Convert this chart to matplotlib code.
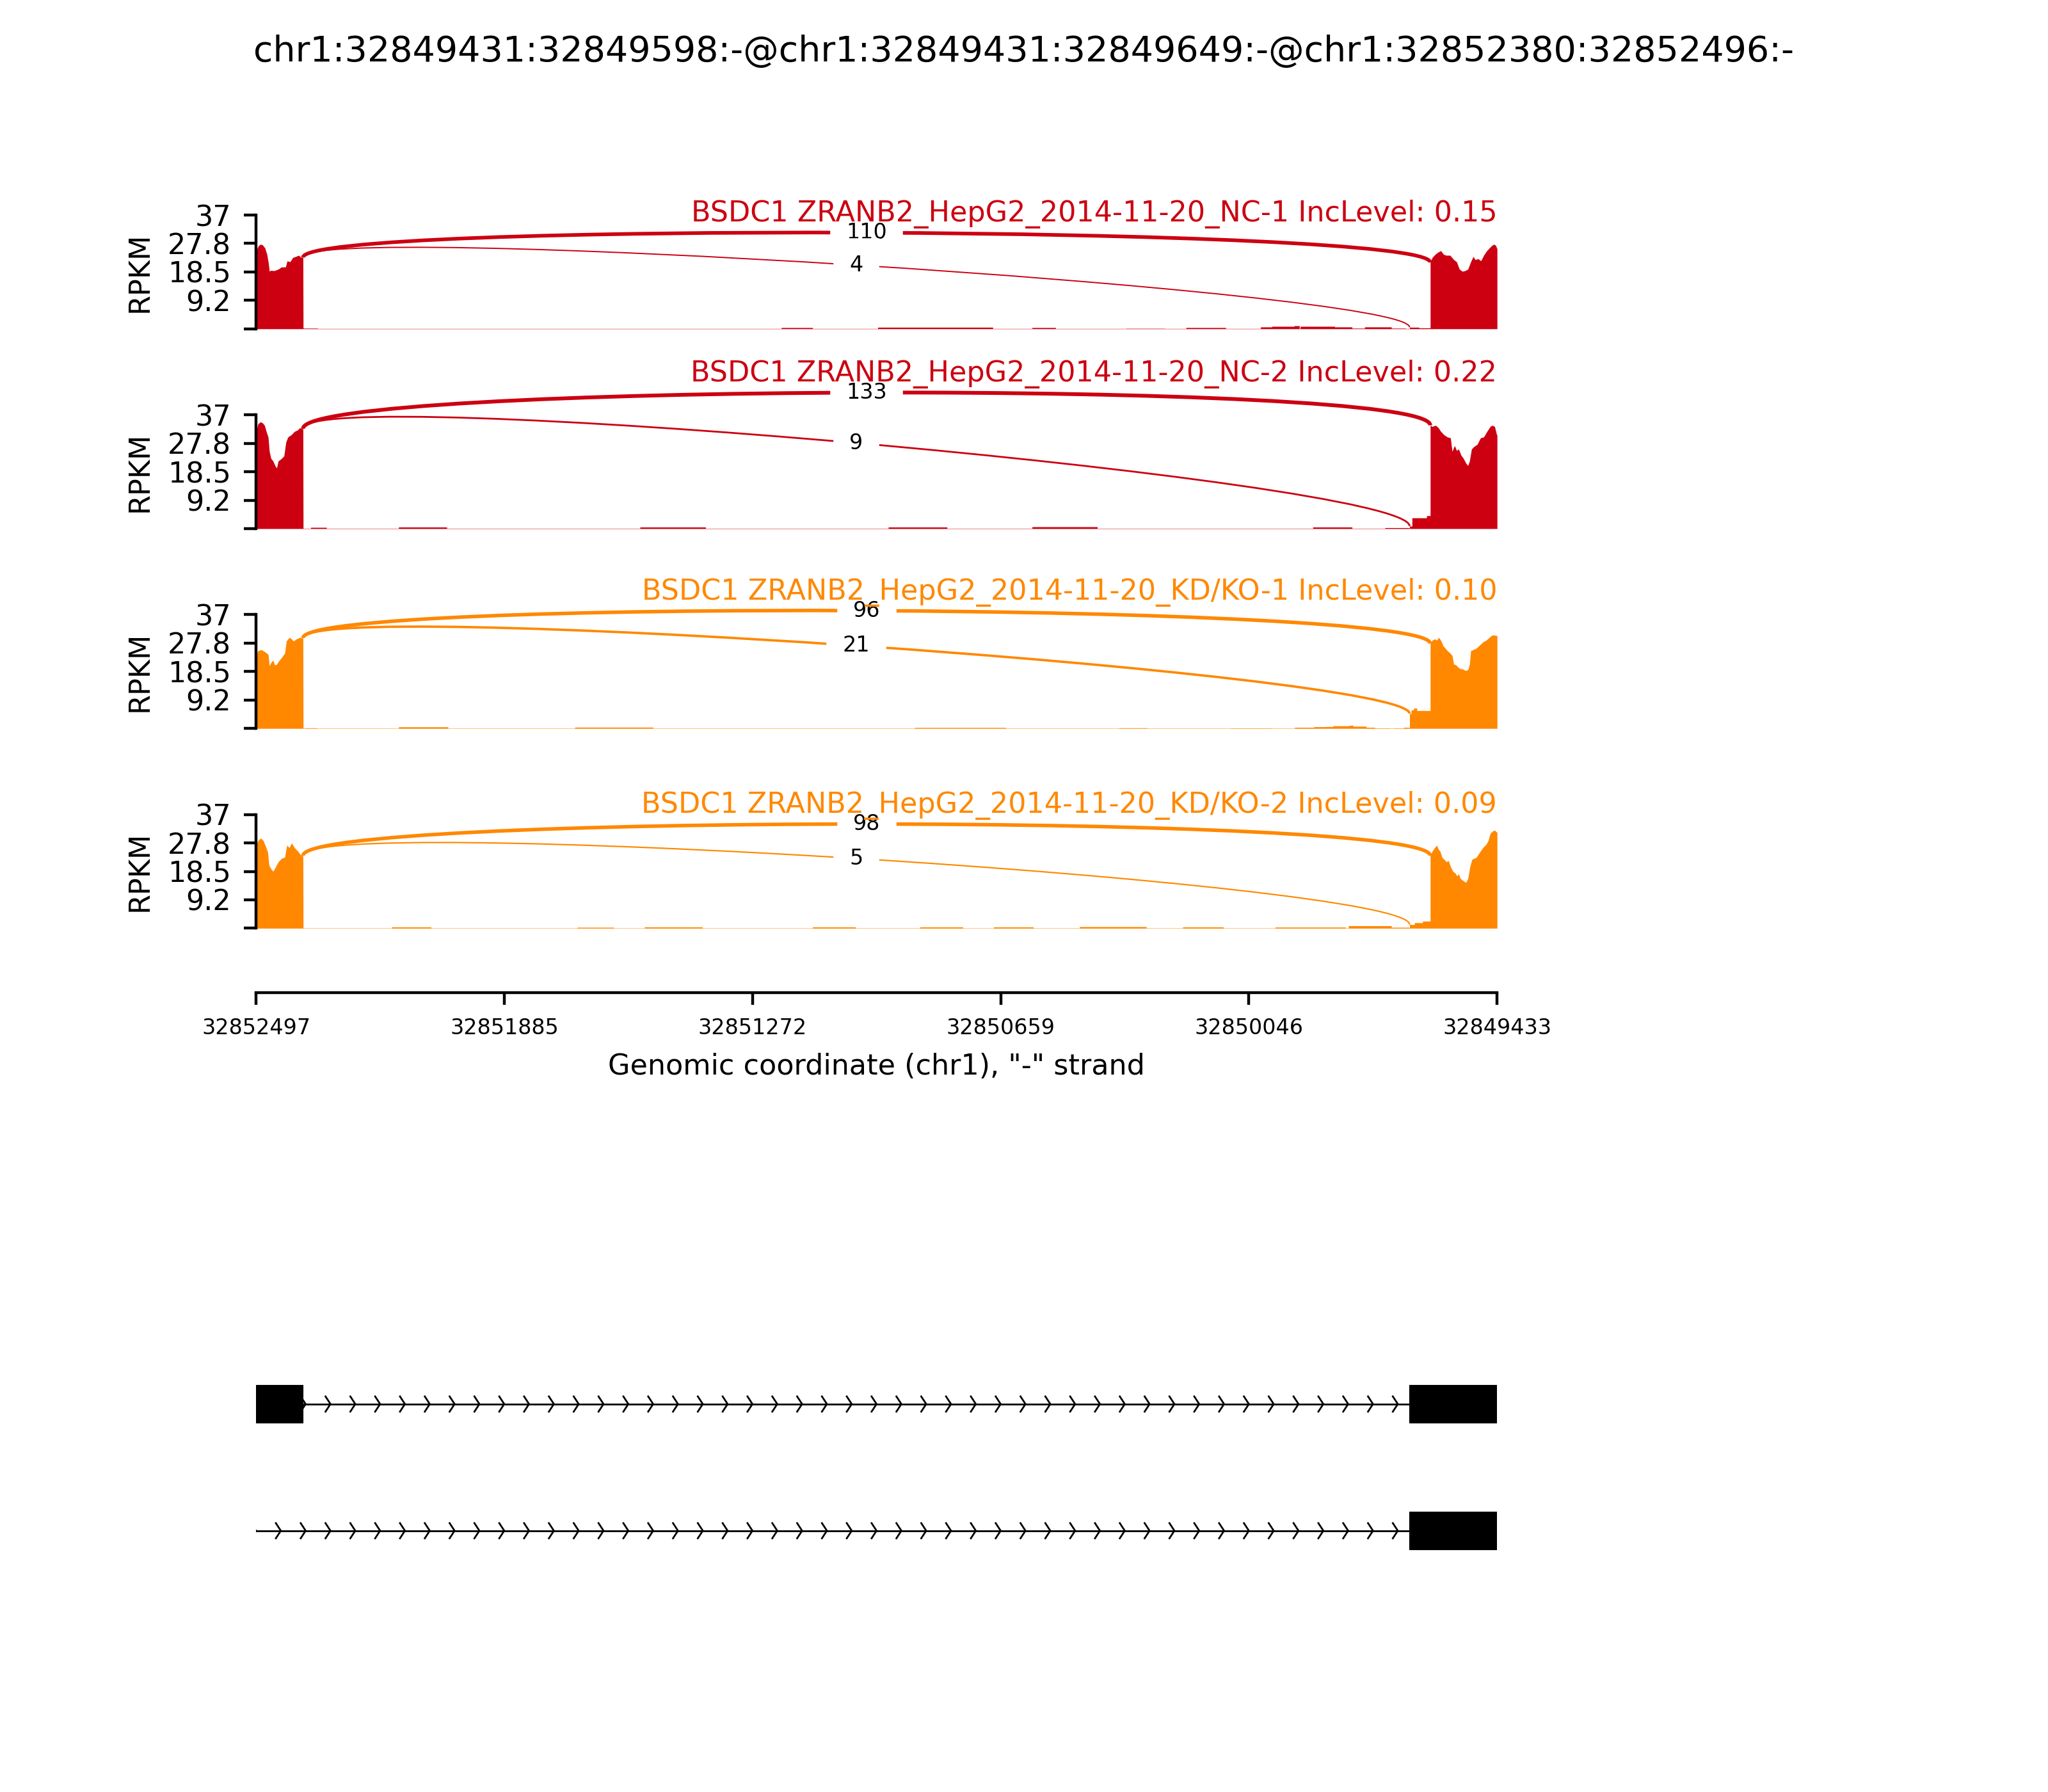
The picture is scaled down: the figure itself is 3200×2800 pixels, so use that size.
import numpy as np
import matplotlib
matplotlib.use("Agg")
import matplotlib.pyplot as plt
from matplotlib.path import Path
from matplotlib.patches import PathPatch, Rectangle

### Data (relative coordinates: 0 = 32852497, minus strand)

event_title = "chr1:32849431:32849598:-@chr1:32849431:32849649:-@chr1:32852380:32852496:-"
region_len = 3064
ymax = 37
ytick_labels = ["", "9.2", "18.5", "27.8", "37"]
xtick_labels = ["32852497", "32851885", "32851272", "32850659", "32850046", "32849433"]
xlabel = 'Genomic coordinate (chr1), "-" strand'

sample_labels = [
    "BSDC1 ZRANB2_HepG2_2014-11-20_NC-1 IncLevel: 0.15",
    "BSDC1 ZRANB2_HepG2_2014-11-20_NC-2 IncLevel: 0.22",
    "BSDC1 ZRANB2_HepG2_2014-11-20_KD/KO-1 IncLevel: 0.10",
    "BSDC1 ZRANB2_HepG2_2014-11-20_KD/KO-2 IncLevel: 0.09",
]
sample_colors = ["#CC0011", "#CC0011", "#FF8800", "#FF8800"]

# upstream exon coverage (32852496-32852380)
nc1_left_pos = [0, 6, 11, 16, 22, 27, 31, 33, 36, 45, 55, 63, 73, 77, 84, 91, 98, 105, 112, 116]
nc1_left_val = [25.3, 27.0, 27.5, 27.3, 26.3, 24.2, 21.1, 18.7, 19.0, 18.9, 19.4, 20.1, 20.1, 22.1, 21.8, 23.2, 23.5, 23.9, 23.2, 23.2]
nc2_left_pos = [0, 5, 11, 16, 21, 26, 30, 33, 37, 42, 47, 51, 55, 63, 69, 74, 79, 87, 95, 103, 108, 113, 116]
nc2_left_val = [31.3, 34.1, 34.7, 34.4, 33.6, 31.3, 29.8, 25.1, 22.8, 22.0, 20.5, 19.7, 22.0, 22.8, 23.6, 28.2, 29.8, 30.5, 31.6, 32.1, 32.8, 32.5, 32.5]
kd1_left_pos = [0, 5, 13, 21, 26, 30, 33, 37, 42, 46, 50, 56, 63, 71, 75, 82, 88, 92, 100, 108, 113, 116]
kd1_left_val = [23.7, 25.3, 25.6, 25.0, 24.5, 24.1, 20.4, 21.4, 22.2, 20.7, 20.7, 21.9, 23.0, 24.5, 28.4, 29.6, 29.1, 28.4, 29.1, 29.6, 29.4, 29.4]
kd2_left_pos = [0, 5, 12, 18, 25, 29, 32, 37, 42, 47, 55, 63, 71, 76, 82, 88, 95, 103, 108, 113, 116]
kd2_left_val = [27.0, 28.5, 29.3, 28.5, 26.2, 24.7, 20.5, 19.3, 18.5, 19.6, 21.6, 22.7, 23.1, 27.0, 26.2, 27.7, 26.2, 25.1, 24.2, 23.6, 23.6]

# downstream exon coverage (32849598-32849431)
nc1_right_pos = [2899, 2904, 2911, 2918, 2925, 2932, 2939, 2948, 2957, 2964, 2971, 2978, 2985, 2992, 2999, 3005, 3010, 3017, 3024, 3031, 3038, 3045, 3052, 3057, 3061, 3064]
nc1_right_val = [21.6, 23.2, 24.2, 24.9, 25.4, 24.2, 23.9, 23.9, 22.5, 21.8, 19.4, 18.7, 18.9, 19.4, 21.8, 23.5, 22.5, 22.8, 22.1, 23.9, 25.3, 26.3, 27.2, 27.5, 27.0, 26.0]
nc2_right_pos = [2899, 2904, 2912, 2919, 2925, 2933, 2941, 2949, 2953, 2959, 2964, 2969, 2975, 2981, 2987, 2992, 2996, 3001, 3007, 3015, 3023, 3031, 3039, 3047, 3052, 3058, 3063, 3064]
nc2_right_val = [33.6, 33.2, 33.6, 32.8, 31.6, 30.5, 29.8, 29.5, 25.1, 27.0, 25.4, 25.9, 23.9, 22.8, 21.3, 20.5, 22.0, 25.9, 26.7, 27.4, 29.5, 29.8, 31.6, 33.2, 33.6, 33.2, 30.5, 30.5]
kd1_right_pos = [2899, 2904, 2910, 2915, 2920, 2926, 2931, 2936, 2941, 2948, 2953, 2957, 2962, 2968, 2973, 2978, 2986, 2992, 2996, 2999, 3005, 3013, 3021, 3029, 3037, 3045, 3050, 3056, 3061, 3064]
kd1_right_val = [27.6, 28.7, 29.1, 28.7, 29.6, 28.4, 26.8, 26.1, 25.3, 24.5, 23.7, 20.9, 20.7, 19.9, 19.4, 19.4, 18.8, 19.1, 20.9, 25.3, 25.6, 26.1, 27.1, 28.1, 28.7, 29.6, 30.2, 30.4, 30.2, 30.2]
kd2_right_pos = [2899, 2904, 2910, 2915, 2919, 2923, 2928, 2933, 2939, 2944, 2949, 2955, 2960, 2965, 2969, 2973, 2981, 2987, 2992, 2997, 3002, 3007, 3013, 3021, 3029, 3037, 3042, 3047, 3053, 3058, 3062, 3064]
kd2_right_val = [23.6, 25.1, 26.2, 27.0, 25.7, 25.1, 23.1, 22.4, 21.6, 22.0, 20.0, 18.5, 18.0, 17.0, 17.7, 16.2, 15.4, 14.9, 16.2, 20.0, 22.4, 22.7, 23.1, 24.7, 26.2, 27.3, 28.5, 30.8, 31.6, 31.9, 31.3, 31.3]

# short stretch 32849649-32849598 (start, end, value)
nc1_low = [(2848, 2871, 0.5), (2871, 2899, 0.3)]
nc2_low = [(2848, 2854, 0.8), (2854, 2890, 3.5), (2890, 2899, 4.2)]
kd1_low = [(2848, 2852, 4.8), (2852, 2858, 6.0), (2858, 2866, 6.6), (2866, 2899, 5.8)]
kd2_low = [(2848, 2860, 1.2), (2860, 2880, 1.8), (2880, 2899, 2.3)]

# intronic reads (start, end, value)
nc1_intron = [(116, 152, 0.2), (1297, 1374, 0.4), (1535, 1819, 0.5), (1916, 1974, 0.4), (2148, 2243, 0.15),
              (2296, 2394, 0.4), (2480, 2508, 0.6), (2508, 2563, 0.8), (2563, 2576, 1.0), (2578, 2663, 0.8),
              (2663, 2706, 0.6), (2706, 2737, 0.2), (2737, 2803, 0.6), (2803, 2838, 0.2)]
nc2_intron = [(135, 174, 0.4), (352, 471, 0.5), (948, 1110, 0.5), (1561, 1706, 0.5), (1916, 2077, 0.6),
              (2609, 2706, 0.5), (2787, 2847, 0.3)]
kd1_intron = [(120, 150, 0.2), (352, 474, 0.5), (787, 980, 0.4), (1626, 1851, 0.3), (2130, 2200, 0.2),
              (2406, 2506, 0.15), (2564, 2612, 0.35), (2612, 2641, 0.55), (2641, 2659, 0.6), (2659, 2699, 0.85),
              (2699, 2709, 1.0), (2709, 2741, 0.7), (2741, 2762, 0.35), (2762, 2799, 0.15), (2807, 2833, 0.15),
              (2833, 2847, 0.35)]
kd2_intron = [(335, 432, 0.4), (793, 883, 0.3), (959, 1102, 0.4), (1374, 1480, 0.4), (1639, 1745, 0.4),
              (1821, 1919, 0.4), (2033, 2198, 0.5), (2288, 2388, 0.4), (2516, 2690, 0.35), (2697, 2803, 0.8),
              (2803, 2847, 0.3)]

# junctions (start, end, reads)
nc1_jxns = [(116, 2899, 110), (116, 2848, 4)]
nc2_jxns = [(116, 2899, 133), (116, 2848, 9)]
kd1_jxns = [(116, 2899, 96), (116, 2848, 21)]
kd2_jxns = [(116, 2899, 98), (116, 2848, 5)]

# gene models
iso_exons = [[(0, 116), (2848, 2899), (2899, 3064)],
             [(2848, 2899), (2899, 3064)]]

samples = [
    (nc1_left_pos, nc1_left_val, nc1_intron, nc1_low, nc1_right_pos, nc1_right_val, nc1_jxns),
    (nc2_left_pos, nc2_left_val, nc2_intron, nc2_low, nc2_right_pos, nc2_right_val, nc2_jxns),
    (kd1_left_pos, kd1_left_val, kd1_intron, kd1_low, kd1_right_pos, kd1_right_val, kd1_jxns),
    (kd2_left_pos, kd2_left_val, kd2_intron, kd2_low, kd2_right_pos, kd2_right_val, kd2_jxns),
]

### Helpers

def build_track(lpos, lval, intron, low, rpos, rval, base=0.1):
    xs = list(lpos)
    ys = list(lval)
    xs.append(lpos[-1] + 0.5)
    ys.append(base)
    for s, e, v in sorted(intron + low):
        xs += [s, s, e, e]
        ys += [base, v, v, base]
    xs += list(rpos)
    ys += list(rval)
    return np.array(xs, dtype=float), np.array(ys, dtype=float)

def dens_at(pos, lpos, lval, low, rpos, rval):
    if pos <= lpos[-1]:
        return lval[-1]
    if pos >= rpos[0]:
        return rval[0]
    for s, e, v in low:
        if s <= pos < e:
            return v
    return 0.0

def cubic_bezier(pts, t):
    p0, p1, p2, p3 = [np.array(p) for p in pts]
    return (1-t)**3*p0 + 3*(1-t)**2*t*p1 + 3*(1-t)*t**2*p2 + t**3*p3

### Figure

font_size = 8
fig = plt.figure(figsize=(8, 7), dpi=400)
left, width = 0.125, 0.606
panel_bottoms = [0.8165, 0.705, 0.5935, 0.482]
panel_h = 0.0635

fig.text(0.5, 0.971, event_title, ha="center", va="center", fontsize=10)

for i, (lpos, lval, intron, low, rpos, rval, jxns) in enumerate(samples):
    color = sample_colors[i]
    ax = fig.add_axes([left, panel_bottoms[i], width, panel_h])
    xs, ys = build_track(lpos, lval, intron, low, rpos, rval)
    ax.fill_between(xs, ys, y2=0, color=color, lw=0)

    h = 0.43 * max(max(lval), max(rval))
    top_label = 0
    for (s, e, n) in jxns:
        ld = dens_at(s, lpos, lval, low, rpos, rval)
        rd = dens_at(e, lpos, lval, low, rpos, rval)
        pts = [(s, ld), (s, ld + h), (e, rd + h), (e, rd)]
        mid = cubic_bezier(pts, 0.5)
        top_label = max(top_label, mid[1])
        path = Path(pts, [Path.MOVETO, Path.CURVE4, Path.CURVE4, Path.CURVE4])
        ax.add_patch(PathPatch(path, ec=color, fc="none", lw=0.5*np.log10(n + 1), clip_on=False, zorder=3))
        ax.text(mid[0], mid[1], str(n), fontsize=font_size - 2, ha="center", va="center",
                backgroundcolor="w", zorder=4, clip_on=False)

    ax.text(region_len, top_label + 1.3, sample_labels[i], fontsize=font_size,
            ha="right", va="bottom", color=color, zorder=5)

    ax.set_xlim(0, region_len)
    ax.set_ylim(0, ymax)
    ax.set_yticks(np.linspace(0, ymax, 5))
    ax.set_yticklabels(ytick_labels, fontsize=font_size)
    ax.set_ylabel("RPKM", fontsize=font_size)
    ax.set_xticks([])
    for sp in ["top", "right", "bottom"]:
        ax.spines[sp].set_visible(False)
    ax.patch.set_alpha(0)

# genomic coordinate axis
xax = fig.add_axes([left, 0.446, width, 0.0001])
xax.set_xlim(0, region_len)
xax.set_xticks(np.linspace(0, region_len, len(xtick_labels)))
xax.set_xticklabels(xtick_labels, fontsize=font_size - 2)
xax.set_yticks([])
for sp in ["top", "right", "left"]:
    xax.spines[sp].set_visible(False)
xax.set_xlabel(xlabel, fontsize=font_size)
xax.patch.set_alpha(0)

# gene models
gax = fig.add_axes([left, 0.0751, width, 0.2121])
gax.set_xlim(0, region_len)
gax.set_ylim(-1, 2)
gax.axis("off")
exonwidth = 0.3
narrows = 50
spread = 0.2 * region_len / narrows
for k, exons in enumerate(iso_exons):
    yloc = len(iso_exons) - 1 - k
    gax.plot([0, region_len], [yloc, yloc], color="k", lw=0.5)
    for j in range(narrows):
        loc = float(j) * region_len / narrows
        gax.plot([loc - spread, loc, loc - spread],
                 [yloc - exonwidth/5, yloc, yloc + exonwidth/5], color="k", lw=0.5)
    for s, e in exons:
        gax.add_patch(Rectangle((s, yloc - exonwidth/2), e - s, exonwidth, fc="k", ec="k", lw=0.2, zorder=3))

fig.savefig("out.png", dpi=400)
